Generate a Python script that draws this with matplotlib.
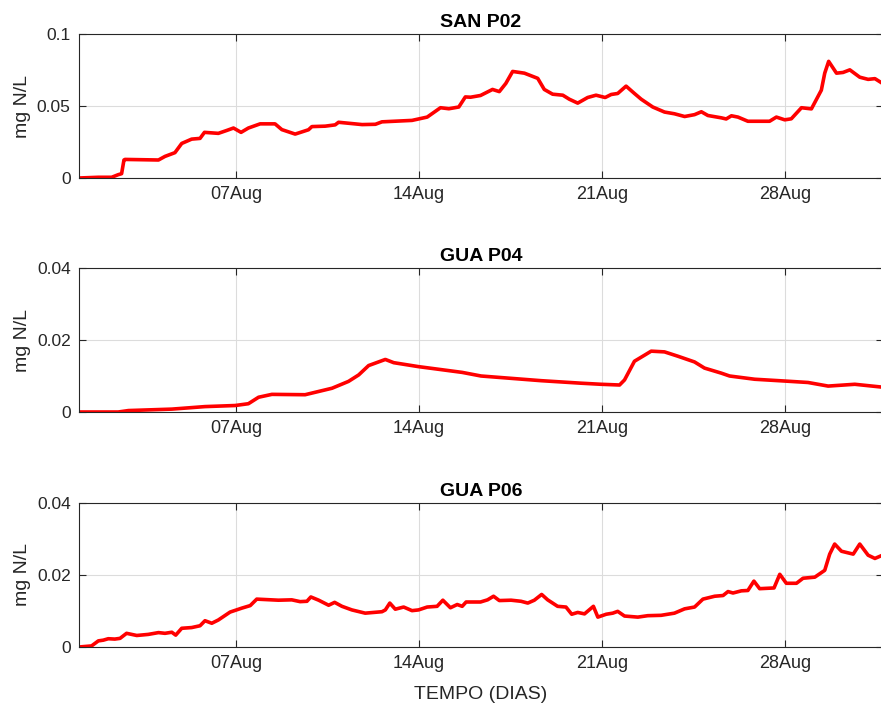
import matplotlib
matplotlib.use('Agg')
import matplotlib.pyplot as plt
import matplotlib.dates as mdates
import numpy as np
import pandas as pd

# days since 01 Aug, concentration (mg N/L)
san_days = [0.00, 0.74, 1.25, 1.50, 1.63, 1.72, 1.76, 3.04, 3.29, 3.67, 3.93, 4.31, 4.63, 4.80,
            5.33, 5.65, 5.91, 6.20, 6.48, 6.93, 7.50, 7.76, 8.27, 8.78, 8.91, 9.42, 9.80, 9.93,
            10.83, 11.34, 11.59, 12.74, 13.32, 13.83, 14.15, 14.53, 14.78, 14.98, 15.36, 15.82,
            16.08, 16.33, 16.59, 17.04, 17.55, 17.80, 18.12, 18.51, 18.76, 19.08, 19.46, 19.78,
            20.13, 20.36, 20.61, 20.93, 21.25, 21.51, 21.95, 22.40, 22.78, 23.17, 23.55, 23.81,
            24.06, 24.57, 24.76, 24.96, 25.21, 25.59, 26.42, 26.68, 27.00, 27.25, 27.64, 28.02,
            28.40, 28.53, 28.68, 28.98, 29.23, 29.49, 29.87, 30.19, 30.45, 30.74]
san_vals = [0.0, 0.0005, 0.0005, 0.0023, 0.0030, 0.0125, 0.0129, 0.0125, 0.0150, 0.0176, 0.0240,
            0.0270, 0.0275, 0.0317, 0.0310, 0.0330, 0.0347, 0.0317, 0.0347, 0.0376, 0.0376, 0.0336,
            0.0305, 0.0335, 0.0357, 0.0360, 0.0369, 0.0387, 0.0371, 0.0373, 0.0390, 0.0400, 0.0423,
            0.0488, 0.0481, 0.0493, 0.0563, 0.0561, 0.0573, 0.0615, 0.0600, 0.0657, 0.0740, 0.0728,
            0.0692, 0.0615, 0.0582, 0.0575, 0.0547, 0.0520, 0.0559, 0.0575, 0.0559, 0.0580, 0.0587,
            0.0638, 0.0587, 0.0547, 0.0493, 0.0458, 0.0446, 0.0427, 0.0440, 0.0460, 0.0434, 0.0418,
            0.0410, 0.0432, 0.0423, 0.0394, 0.0394, 0.0423, 0.0404, 0.0411, 0.0488, 0.0480, 0.0610,
            0.0728, 0.0810, 0.0728, 0.0733, 0.0751, 0.0700, 0.0685, 0.0690, 0.0657]

gua4_days = [0.00, 1.50, 1.89, 3.55, 4.82, 5.97, 6.48, 6.87, 7.38, 8.65, 9.68, 10.31, 10.70,
             11.08, 11.72, 12.04, 12.99, 14.66, 15.38, 17.68, 19.21, 19.97, 20.68, 20.87, 21.25,
             21.64, 21.89, 22.40, 22.91, 23.55, 23.93, 24.57, 24.89, 25.85, 27.00, 27.89, 28.66,
             29.68, 30.74]
gua4_vals = [0.0, 0.0, 0.0004, 0.0008, 0.0015, 0.0018, 0.0023, 0.0041, 0.0049, 0.0048, 0.0066,
             0.0085, 0.0103, 0.0129, 0.0146, 0.0137, 0.0126, 0.0110, 0.0100, 0.0087, 0.0080,
             0.0077, 0.0075, 0.0089, 0.0141, 0.0158, 0.0169, 0.0167, 0.0155, 0.0139, 0.0122,
             0.0108, 0.0100, 0.0091, 0.0086, 0.0082, 0.0072, 0.0077, 0.0069]

gua6_days = [0.00, 0.48, 0.74, 0.93, 1.12, 1.37, 1.57, 1.82, 2.21, 2.65, 3.04, 3.29, 3.55, 3.70,
             3.93, 4.31, 4.63, 4.82, 5.08, 5.33, 5.78, 6.23, 6.55, 6.80, 7.63, 8.14, 8.46, 8.72,
             8.87, 9.17, 9.55, 9.78, 10.06, 10.44, 10.95, 11.59, 11.72, 11.89, 12.10, 12.42, 12.74,
             12.99, 13.32, 13.70, 13.92, 14.21, 14.47, 14.66, 14.81, 15.36, 15.63, 15.86, 16.08,
             16.53, 16.91, 17.17, 17.42, 17.70, 17.93, 18.31, 18.63, 18.85, 19.08, 19.34, 19.68,
             19.85, 20.17, 20.42, 20.61, 20.87, 21.38, 21.76, 22.27, 22.78, 23.17, 23.55, 23.87,
             24.32, 24.64, 24.83, 25.02, 25.34, 25.59, 25.82, 26.04, 26.59, 26.81, 27.06, 27.45,
             27.70, 28.15, 28.53, 28.72, 28.91, 29.17, 29.62, 29.87, 30.19, 30.45, 30.74]
gua6_vals = [0.0, 0.0003, 0.0017, 0.0019, 0.0023, 0.0022, 0.0024, 0.0038, 0.0032, 0.0035, 0.0040,
             0.0038, 0.0041, 0.0033, 0.0052, 0.0054, 0.0059, 0.0073, 0.0066, 0.0075, 0.0097, 0.0108,
             0.0115, 0.0133, 0.0130, 0.0131, 0.0126, 0.0127, 0.0139, 0.0130, 0.0116, 0.0124, 0.0113,
             0.0103, 0.0094, 0.0098, 0.0103, 0.0122, 0.0105, 0.0111, 0.0101, 0.0103, 0.0111, 0.0113,
             0.0130, 0.0109, 0.0118, 0.0113, 0.0125, 0.0125, 0.0131, 0.0141, 0.0129, 0.0130, 0.0127,
             0.0122, 0.0130, 0.0146, 0.0131, 0.0113, 0.0111, 0.0091, 0.0096, 0.0092, 0.0113, 0.0083,
             0.0091, 0.0094, 0.0099, 0.0086, 0.0083, 0.0087, 0.0088, 0.0094, 0.0106, 0.0111, 0.0133,
             0.0141, 0.0143, 0.0154, 0.0150, 0.0156, 0.0157, 0.0183, 0.0162, 0.0164, 0.0202, 0.0177,
             0.0177, 0.0191, 0.0194, 0.0213, 0.0258, 0.0286, 0.0266, 0.0258, 0.0286, 0.0255, 0.0246,
             0.0255]

titles = ['SAN P02', 'GUA P04', 'GUA P06']
ymaxes = [0.1, 0.04, 0.04]
yticks = [[0, 0.05, 0.1], [0, 0.02, 0.04], [0, 0.02, 0.04]]
yticklabels = [['0', '0.05', '0.1'], ['0', '0.02', '0.04'], ['0', '0.02', '0.04']]

start = pd.Timestamp('2023-08-01')
end_day = 30.75
tick_days = [6, 13, 20, 27]

plt.rcParams['font.family'] = ['Liberation Sans', 'DejaVu Sans']
dark = '#262626'

fig = plt.figure(figsize=(8.81, 7.07), dpi=100)
bottoms = [1 - 178 / 707, 1 - 412 / 707, 1 - 647 / 707]
height = 144 / 707
left = 79 / 881
width = 1.0 - left + 0.002

series = [(san_days, san_vals), (gua4_days, gua4_vals), (gua6_days, gua6_vals)]

for i, (days, vals) in enumerate(series):
    ax = fig.add_axes([left, bottoms[i], width, height])
    t = start + pd.to_timedelta(np.array(days), unit='D')
    ax.plot(t, vals, color='red', linewidth=2.6, solid_joinstyle='round')
    ax.set_xlim(start, start + pd.Timedelta(days=end_day))
    ax.set_ylim(0, ymaxes[i])
    ax.set_yticks(yticks[i])
    ax.set_yticklabels(yticklabels[i])
    ax.set_xticks([start + pd.Timedelta(days=d) for d in tick_days])
    ax.xaxis.set_major_formatter(mdates.DateFormatter('%d%b'))
    ax.grid(True, color='#dcdcdc', linewidth=0.8)
    ax.set_axisbelow(True)
    ax.tick_params(direction='in', top=True, right=True, length=5, width=0.8,
                   colors=dark, pad=6)
    ax.tick_params(axis='x', labelsize=13)
    ax.tick_params(axis='y', labelsize=12.5)
    for s in ax.spines.values():
        s.set_color(dark)
        s.set_linewidth(0.8)
    ax.set_title(titles[i], fontsize=14, fontweight='bold', color='black', pad=5)
    ax.set_ylabel('mg N/L', fontsize=14, color=dark, labelpad=4)

ax.set_xlabel('TEMPO (DIAS)', fontsize=14, color=dark, labelpad=10)

fig.savefig('out.png', dpi=100)
